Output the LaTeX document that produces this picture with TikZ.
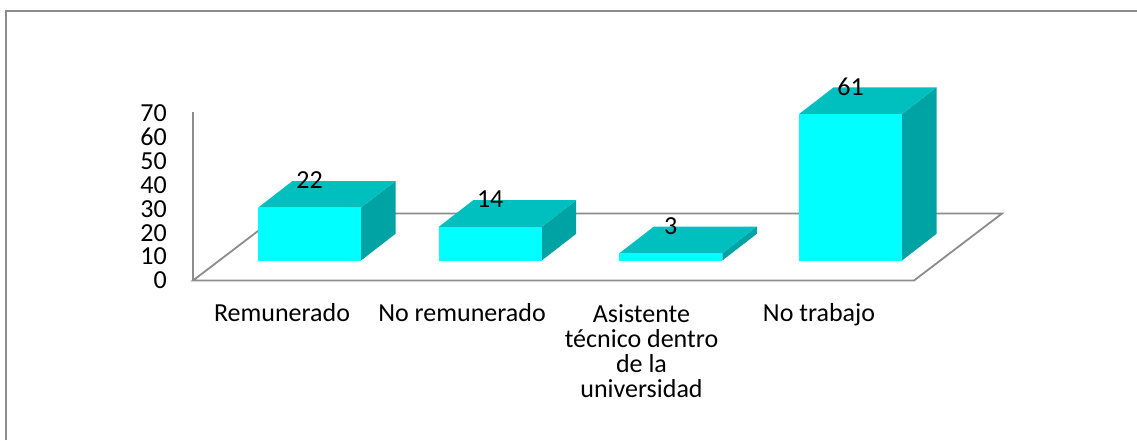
\documentclass[tikz,border=0pt]{standalone}
\usepackage{fontspec}
\setmainfont{Carlito}
\definecolor{frontc}{HTML}{00FFFF}
\definecolor{topc}{HTML}{00BFBF}
\definecolor{sidec}{HTML}{00A3A3}
\definecolor{axisc}{HTML}{8C8C8C}
\definecolor{framec}{HTML}{8C8C8C}
\begin{document}
\begin{tikzpicture}[x=1pt,y=-1pt,
  axisline/.style={draw=axisc,line width=1.8},
  framebox/.style={draw=framec,line width=2},
  vlab/.style={inner sep=0,font=\fontsize{26}{25}\selectfont},
  ylab/.style={inner sep=0,anchor=east,font=\fontsize{26}{25}\selectfont},
  catlab/.style={inner sep=0,anchor=base,align=center,font=\fontsize{26}{25}\selectfont}]
\useasboundingbox (0,0) rectangle (1137,440);
\fill[white] (0,0) rectangle (1137,440);
% outer frame
\draw[framebox] (5.5,440) -- (5.5,10.5) -- (1137,10.5);
% floor and axis
\coordinate (fl) at (193,280.5);
\coordinate (fr) at (914,280.5);
\coordinate (br) at (1002,213.5);
\coordinate (bl) at (281,213.5);
\coordinate (at) at (193,112);
\draw[axisline] (fl) -- (fr) -- (br) -- (bl) -- cycle;
\draw[axisline] (at) -- (fl);
% y labels
\foreach \k in {0,...,7} {
  \pgfmathtruncatemacro\lab{10*\k}
  \node[ylab] (y\k) at (167,280.5-23.88*\k) {\lab};
}
% bars
\foreach \x/\v/\n in {258/22/a,438.7/14/b,619.3/3/c,799/61/d} {
  \pgfmathsetmacro\t{260.5-2.4*\v}
  \fill[sidec] (\x+103,260.5) -- (\x+103,\t) -- (\x+137.5,\t-26.7) -- (\x+137.5,260.5-26.7) -- cycle;
  \fill[topc] (\x,\t) -- (\x+34.5,\t-26.7) -- (\x+137.5,\t-26.7) -- (\x+103,\t) -- cycle;
  \fill[frontc] (\x,\t) rectangle (\x+103,260.5);
  \node[vlab] (v\n) at (\x+51.5,\t-27.5) {\v};
}
% category labels
\node[catlab] (c1) at (282,321.7) {Remunerado};
\node[catlab] (c2) at (462,321.7) {No remunerado};
\node[catlab] (c3) at (641.5,397) {Asistente\\técnico dentro\\de la\\universidad};
\node[catlab] (c4) at (819,321.7) {No trabajo};
\end{tikzpicture}
\end{document}
